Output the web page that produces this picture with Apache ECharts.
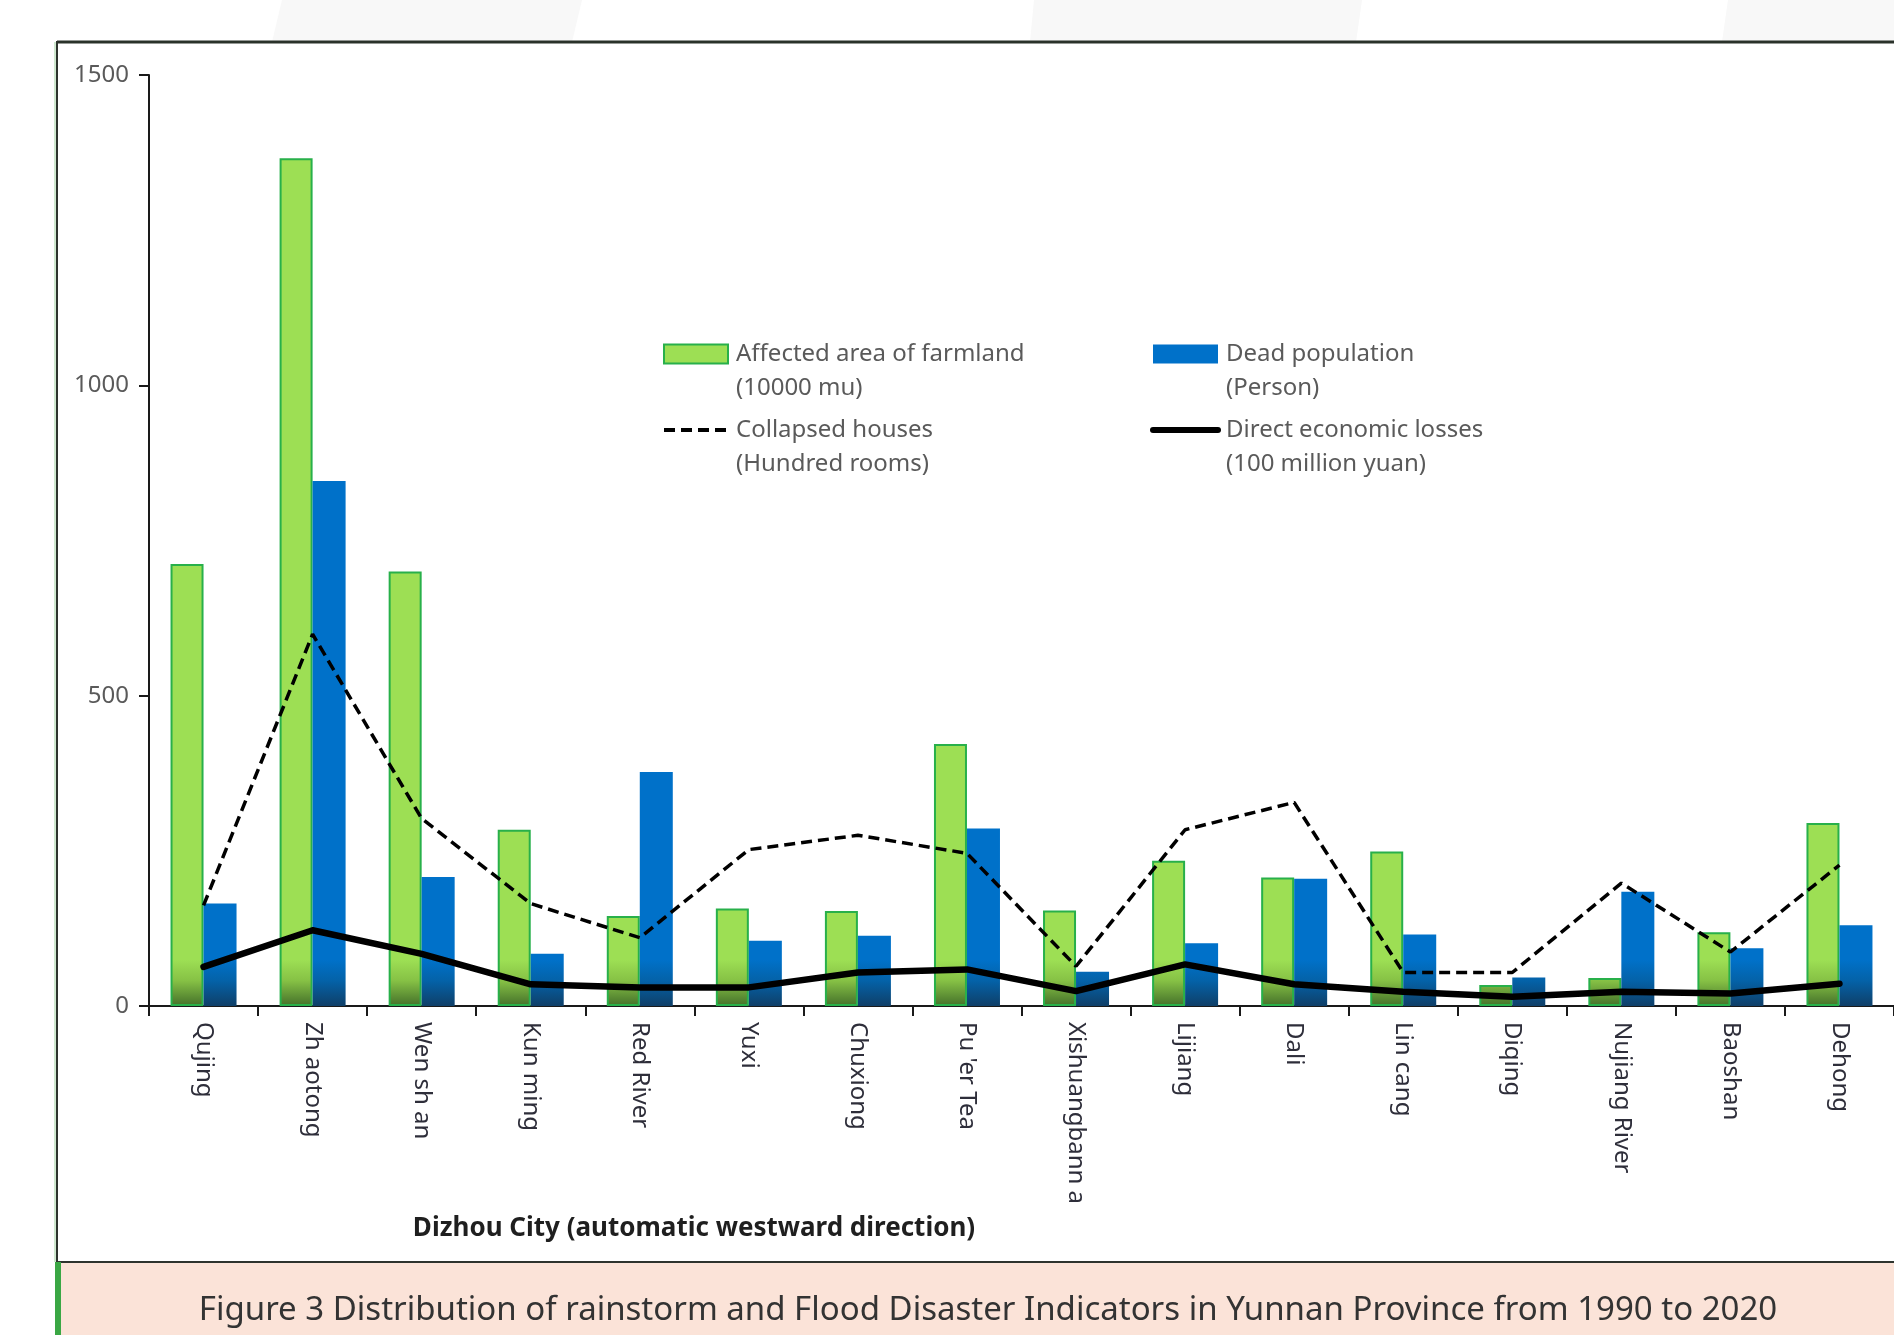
<!DOCTYPE html>
<html>
<head>
<meta charset="utf-8">
<title>Rainstorm and Flood Disaster Indicators in Yunnan</title>
<script src="https://cdn.jsdelivr.net/npm/echarts@6/dist/echarts.min.js"></script>
<style>
  html, body { margin: 0; padding: 0; background: #ffffff; }
  #chart { width: 1894px; height: 1335px; }
</style>
</head>
<body>
<div id="chart"></div>
<script>
// Prefectures / cities, listed from east to west
const cities = ['Qujing', 'Zh aotong', 'Wen sh an', 'Kun ming', 'Red River', 'Yuxi', 'Chuxiong',
  "Pu 'er Tea", 'Xishuangbann a', 'Lijiang', 'Dali', 'Lin cang', 'Diqing', 'Nujiang River',
  'Baoshan', 'Dehong'];

// Affected area of farmland (10000 mu)
const farmland = [712, 1366, 700, 284, 145, 157, 153, 422, 154, 234, 207, 249, 34, 45, 119, 295];
// Dead population (persons)
const deaths = [165, 846, 208, 84, 377, 105, 113, 286, 55, 101, 205, 115, 46, 184, 93, 130];
// Collapsed houses (hundred rooms)
const houses = [162, 599, 302, 165, 110, 252, 275, 246, 64, 284, 328, 54, 54, 198, 87, 227];
// Direct economic losses (100 million yuan)
const losses = [63, 122, 84, 35, 30, 30, 54, 59, 24, 67, 35, 23, 15, 23, 20, 36];

// Value axis ticks
const yTicks = [0, 500, 1000, 1500];

const FONT = '"Noto Sans", "Open Sans", sans-serif';
const GREEN = '#9ddf54';
const GREEN_EDGE = '#28b04a';
const BLUE = '#0071c9';

const NAME_FARM = 'Affected area of farmland\n(10000 mu)';
const NAME_DEAD = 'Dead population\n(Person)';
const NAME_HOUSE = 'Collapsed houses\n(Hundred rooms)';
const NAME_LOSS = 'Direct economic losses\n(100 million yuan)';

const chart = echarts.init(document.getElementById('chart'), null, { renderer: 'canvas' });

// two-line legend labels; a leading blank line keeps the first line level with the swatch
const legendText = {
  fontFamily: FONT, fontSize: 24, color: '#5a5a5a', lineHeight: 34,
  padding: [0, 0, 0, 3]
};
const legendFormatter = name => '\n' + name;
const hiddenSymbol = { color: 'rgba(0,0,0,0)', borderWidth: 0, opacity: 0 };

const option = {
  backgroundColor: '#ffffff',
  animation: false,
  grid: { left: 149, top: 75, width: 1748, height: 931, containLabel: false },
  legend: [
    {
      left: 662, top: 303, orient: 'vertical', padding: 0, itemGap: -26,
      itemWidth: 64, itemHeight: 19, textStyle: legendText, selectedMode: false,
      formatter: legendFormatter,
      data: [
        { name: NAME_FARM, icon: 'rect', itemStyle: { color: GREEN, borderColor: GREEN_EDGE, borderWidth: 2 } },
        { name: NAME_HOUSE, itemStyle: hiddenSymbol, lineStyle: { color: '#000', width: 4, type: [11, 6] } }
      ]
    },
    {
      left: 1150, top: 303, orient: 'vertical', padding: 0, itemGap: -26,
      itemWidth: 65, itemHeight: 19, textStyle: legendText, selectedMode: false,
      formatter: legendFormatter,
      data: [
        { name: NAME_DEAD, icon: 'rect', itemStyle: { color: BLUE, borderWidth: 0 } },
        { name: NAME_LOSS, itemStyle: hiddenSymbol, lineStyle: { color: '#000', width: 6, type: 'solid' } }
      ]
    }
  ],
  xAxis: {
    type: 'category',
    data: cities,
    boundaryGap: true,
    axisLine: { show: true, lineStyle: { color: '#1a1a1a', width: 2 } },
    axisTick: { show: true, length: 10, lineStyle: { color: '#1a1a1a', width: 2 } },
    axisLabel: {
      rotate: -90, margin: 16, interval: 0,
      fontFamily: FONT, fontSize: 24, color: '#2e2e3a'
    },
    splitLine: { show: false }
  },
  yAxis: {
    type: 'value',
    min: yTicks[0], max: yTicks[yTicks.length - 1], interval: yTicks[1] - yTicks[0],
    axisLine: { show: true, lineStyle: { color: '#1a1a1a', width: 2 } },
    axisTick: { show: true, length: 10, lineStyle: { color: '#1a1a1a', width: 2 } },
    axisLabel: {
      margin: 20, fontFamily: FONT, fontSize: 24, color: '#5a5a5a',
      formatter: v => String(v)
    },
    splitLine: { show: false }
  },
  series: [
    {
      name: NAME_FARM, type: 'bar', data: farmland,
      barWidth: 33, barGap: '0%',
      itemStyle: { color: GREEN, borderColor: GREEN_EDGE, borderWidth: 2 },
      z: 2
    },
    {
      name: NAME_DEAD, type: 'bar', data: deaths,
      barWidth: 33, barGap: '0%',
      itemStyle: { color: BLUE },
      z: 2
    },
    {
      name: NAME_HOUSE, type: 'line', data: houses,
      symbol: 'none', smooth: false,
      itemStyle: { color: '#000' },
      lineStyle: { color: '#000', width: 3.5, type: [11, 6] },
      z: 3
    },
    {
      name: NAME_LOSS, type: 'line', data: losses,
      symbol: 'none', smooth: false,
      itemStyle: { color: '#000' },
      lineStyle: { color: '#000', width: 6.5, cap: 'round', join: 'round' },
      z: 4
    }
  ],
  graphic: [
    // faint light shapes in the margin above the frame
    { type: 'polygon', silent: true, z: -10, shape: { points: [[282, 0], [582, 0], [572, 42], [272, 42]] }, style: { fill: '#f8f8f8' } },
    { type: 'polygon', silent: true, z: -10, shape: { points: [[1034, 0], [1362, 0], [1356, 42], [1030, 42]] }, style: { fill: '#f8f8f8' } },
    { type: 'polygon', silent: true, z: -10, shape: { points: [[1728, 0], [1894, 0], [1894, 42], [1722, 42]] }, style: { fill: '#f8f8f8' } },
    // plot frame
    { type: 'rect', silent: true, z: -5, shape: { x: 57, y: 42, width: 1900, height: 1220 }, style: { fill: '#ffffff', stroke: '#2e342e', lineWidth: 2 } },
    { type: 'line', silent: true, z: -4, shape: { x1: 57, y1: 42, x2: 1900, y2: 42 }, style: { stroke: '#2a322a', lineWidth: 3 } },
    { type: 'line', silent: true, z: -4, shape: { x1: 55, y1: 42, x2: 55, y2: 1262 }, style: { stroke: '#cfe8cf', lineWidth: 2 } },
    // caption band
    { type: 'rect', silent: true, z: -5, shape: { x: 58, y: 1263, width: 1840, height: 80 }, style: { fill: '#fbe3d8' } },
    { type: 'rect', silent: true, z: -4, shape: { x: 55, y: 1262, width: 6, height: 80 }, style: { fill: '#3aa744' } },
    {
      type: 'text', silent: true, z: 5,
      x: 988, y: 1311,
      style: {
        text: 'Figure 3 Distribution of rainstorm and Flood Disaster Indicators in Yunnan Province from 1990 to 2020',
        x: 0, y: 0, fill: '#333333', font: '33px ' + FONT, textAlign: 'center', textVerticalAlign: 'middle'
      }
    },
    {
      type: 'text', silent: true, z: 5,
      x: 694, y: 1229,
      style: {
        text: 'Dizhou City (automatic westward direction)',
        x: 0, y: 0, fill: '#1f1f1f', font: 'bold 26px ' + FONT, textAlign: 'center', textVerticalAlign: 'middle'
      }
    }
  ]
};

chart.setOption(option);

// Darken the lower part of every bar with a gradient anchored to the value-axis baseline
const base = chart.convertToPixel({ yAxisIndex: 0 }, 0);
const fade = 46;
chart.setOption({
  series: [
    {
      itemStyle: {
        color: new echarts.graphic.LinearGradient(0, base - fade, 0, base, [
          { offset: 0, color: GREEN }, { offset: 0.45, color: '#86c145' }, { offset: 1, color: '#44702a' }
        ], true)
      }
    },
    {
      itemStyle: {
        color: new echarts.graphic.LinearGradient(0, base - fade, 0, base, [
          { offset: 0, color: BLUE }, { offset: 0.45, color: '#0462a8' }, { offset: 1, color: '#0f3f68' }
        ], true)
      }
    }
  ]
});
</script>
</body>
</html>
